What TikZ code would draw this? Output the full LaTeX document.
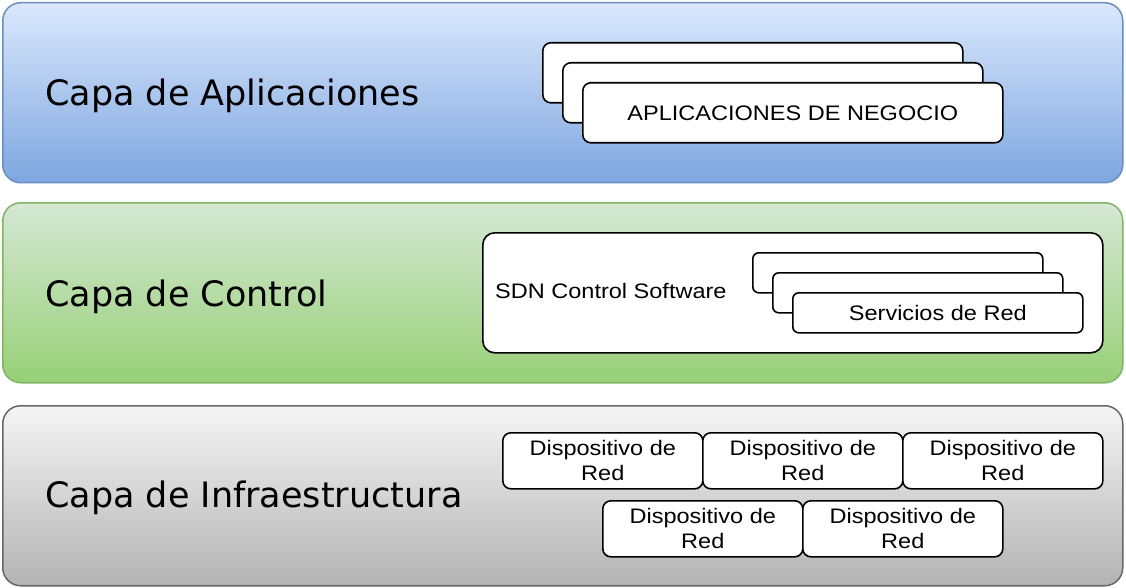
\documentclass[tikz,border=0pt]{standalone}
\usepackage{fontspec}
\setmainfont{Liberation Sans}
\newfontfamily\layerfont{DejaVu Sans}
\newfontfamily\boxfont[FakeStretch=1.12]{Liberation Sans}
\definecolor{appTop}{HTML}{DAE8FC}
\definecolor{appBot}{HTML}{7EA6E0}
\definecolor{appLine}{HTML}{6C8EBF}
\definecolor{ctlTop}{HTML}{D5E8D4}
\definecolor{ctlBot}{HTML}{97D077}
\definecolor{ctlLine}{HTML}{82B366}
\definecolor{infTop}{HTML}{F5F5F5}
\definecolor{infBot}{HTML}{B3B3B3}
\definecolor{infLine}{HTML}{666666}
\begin{document}
\begin{tikzpicture}[x=1pt,y=-1pt,
  layer/.style={draw, rounded corners=18pt, line width=1.5pt, minimum width=1120pt, minimum height=180pt, inner sep=0pt, anchor=north west},
  layertext/.style={anchor=base west, inner sep=0pt, font=\layerfont\fontsize{35}{40}\selectfont},
  wbox/.style={draw=black, fill=white, line width=1.6pt, inner sep=0pt, anchor=north west, align=center, font=\boxfont\fontsize{21}{25}\selectfont},
  appbox/.style={wbox, rounded corners=8pt, minimum width=420pt, minimum height=60pt},
  srvbox/.style={wbox, rounded corners=6pt, minimum width=290pt, minimum height=40pt},
  devbox/.style={wbox, rounded corners=8pt, minimum width=200pt, minimum height=56pt},
  plaintext/.style={anchor=base west, inner sep=0pt, font=\boxfont\fontsize{21}{25}\selectfont}
]
\useasboundingbox (0,0) rectangle (1126,588);
% layers
\node[layer, top color=appTop, bottom color=appBot, draw=appLine] (app) at (2,2) {};
\node[layer, top color=ctlTop, bottom color=ctlBot, draw=ctlLine] (ctl) at (2,202) {};
\node[layer, top color=infTop, bottom color=infBot, draw=infLine] (inf) at (2,405) {};
\node[layertext] (appT) at (45,106) {Capa de Aplicaciones};
\node[layertext] (ctlT) at (45,306) {Capa de Control};
\node[layertext] (infT) at (45,507) {Capa de Infraestructura};
% application boxes
\node[appbox] (app1) at (542,42) {};
\node[appbox] (app2) at (562,62) {};
\node[appbox, text depth=-1pt] (app3) at (582,82) {APLICACIONES DE NEGOCIO};
% control
\node[wbox, rounded corners=12pt, minimum width=620pt, minimum height=120pt] (sdn) at (482,232) {};
\node[plaintext] (sdnT) at (495,298) {SDN Control Software};
\node[srvbox] (srv1) at (752,252) {};
\node[srvbox] (srv2) at (772,272) {};
\node[srvbox, text depth=0pt] (srv3) at (792,292) {Servicios de Red};
% devices
\node[devbox] (d1) at (502,432) {Dispositivo de\\Red};
\node[devbox] (d2) at (702,432) {Dispositivo de\\Red};
\node[devbox] (d3) at (902,432) {Dispositivo de\\Red};
\node[devbox] (d4) at (602,500) {Dispositivo de\\Red};
\node[devbox] (d5) at (802,500) {Dispositivo de\\Red};
\end{tikzpicture}
\end{document}
